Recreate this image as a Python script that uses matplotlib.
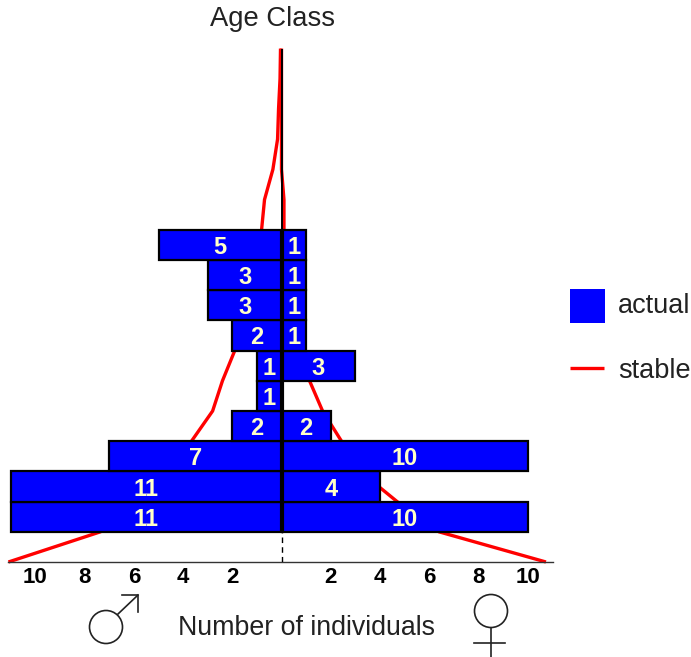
"""Age pyramid: actual and stable age distribution by sex"""
import matplotlib
matplotlib.use("Agg")
import matplotlib.pyplot as plt
from matplotlib.patches import Circle, Rectangle

plt.rcParams["font.family"] = ["Liberation Sans", "DejaVu Sans"]

# Age classes, counted upward from the x axis (class 0 has no individuals)
age_class = [1, 2, 3, 4, 5, 6, 7, 8, 9, 10]
males = [11, 11, 7, 2, 1, 1, 2, 3, 3, 5]
females = [10, 4, 10, 2, 0, 3, 1, 1, 1, 1]

# Stable distribution, read at each age class boundary
stable_age = list(range(18))
stable_males = [11.1, 7.36, 5.6, 4.6, 3.66, 2.8, 2.4, 1.9, 1.5, 1.2, 0.95, 0.81, 0.69,
                0.35, 0.16, 0.12, 0.06, 0.04]
stable_females = [10.75, 6.4, 4.7, 3.2, 2.44, 1.67, 1.14, 0.8, 0.6, 0.45, 0.35, 0.1, 0.1,
                  0, 0, 0, 0, 0]

ticks = [-10, -8, -6, -4, -2, 2, 4, 6, 8, 10]

W, H = 691, 657
X0, Y0 = 281.5, 562  # pixel position of the origin
SX, SY = 24.6, 30.2  # pixels per individual / per age class
LEFT, RIGHT, TOP = 8, 553, 49

fig = plt.figure(figsize=(W / 100, H / 100), dpi=100, facecolor="white")
ax = fig.add_axes([LEFT / W, 1 - Y0 / H, (RIGHT - LEFT) / W, (Y0 - TOP) / H])
ax.set_xlim((LEFT - X0) / SX, (RIGHT - X0) / SX)
ax.set_ylim(0, (Y0 - TOP) / SY)
ax.patch.set_alpha(0)

# Stable lines go behind the bars
ax.plot([-v for v in stable_males], stable_age, color="#ff0000", lw=2.4, zorder=1,
        clip_on=False, solid_capstyle="butt")
ax.plot(stable_females, stable_age, color="#ff0000", lw=2.4, zorder=1,
        clip_on=False, solid_capstyle="butt")

# Bars, with the count written in each
for age, m, f in zip(age_class, males, females):
    ax.barh(age + 0.5, -m, height=1, color="#0000ff", edgecolor="black", lw=1.6, zorder=2)
    ax.text(-m / 2, age + 0.5, str(m), color="#ffffc8", fontsize=17, fontweight="bold",
            ha="center", va="center_baseline", zorder=4)
    if f > 0:
        ax.barh(age + 0.5, f, height=1, color="#0000ff", edgecolor="black", lw=1.6, zorder=2)
        ax.text(f / 2, age + 0.5, str(f), color="#ffffc8", fontsize=17, fontweight="bold",
                ha="center", va="center_baseline", zorder=4)

# Central axis: thin on top, thick through the bars, dashed below
top_bar = age_class[-1] + 1
ax.plot([0, 0], [top_bar, (Y0 - TOP) / SY], color="black", lw=1.4, zorder=3)
ax.plot([0, 0], [age_class[0], top_bar], color="black", lw=3, zorder=3, solid_capstyle="butt")
ax.plot([0, 0], [0, age_class[0]], color="black", lw=1, ls=(0, (4, 3)), zorder=3)

for side in ["top", "left", "right"]:
    ax.spines[side].set_visible(False)
ax.spines["bottom"].set_color("#333333")
ax.spines["bottom"].set_linewidth(1)
ax.set_yticks([])
ax.set_xticks(ticks)
ax.set_xticklabels([str(abs(t)) for t in ticks], fontsize=16, fontweight="bold")
ax.tick_params(axis="x", length=0, pad=3.5)

# Title, legend and sex symbols, placed in pixels
deco = fig.add_axes([0, 0, 1, 1], zorder=5)
deco.set_xlim(0, W)
deco.set_ylim(H, 0)
deco.axis("off")
deco.patch.set_alpha(0)

deco.text(272.5, 19, "Age Class", fontsize=19.7, color="#222222", ha="center", va="center")
deco.text(306.5, 628, "Number of individuals", fontsize=19.3, color="#222222", ha="center", va="center")

deco.add_patch(Rectangle((570, 289), 35, 34, facecolor="#0000ff", edgecolor="none"))
deco.plot([570, 604], [368, 368], color="#ff0000", lw=2.4, solid_capstyle="butt")
deco.text(618, 306, "actual", fontsize=19.5, color="#222222", va="center")
deco.text(618, 371, "stable", fontsize=19.5, color="#222222", va="center")

sym = dict(color="#222222", lw=1.2)
deco.add_patch(Circle((106, 627), 16.5, facecolor="none", edgecolor="#222222", lw=1.2))
deco.plot([118, 138], [614, 595], **sym)
deco.plot([122, 138, 138], [595, 595, 612], **sym)
deco.add_patch(Circle((491, 611), 16.5, facecolor="none", edgecolor="#222222", lw=1.2))
deco.plot([491, 491], [628, 657], **sym)
deco.plot([474, 505], [643, 643], **sym)

fig.savefig("out.png", dpi=100)
